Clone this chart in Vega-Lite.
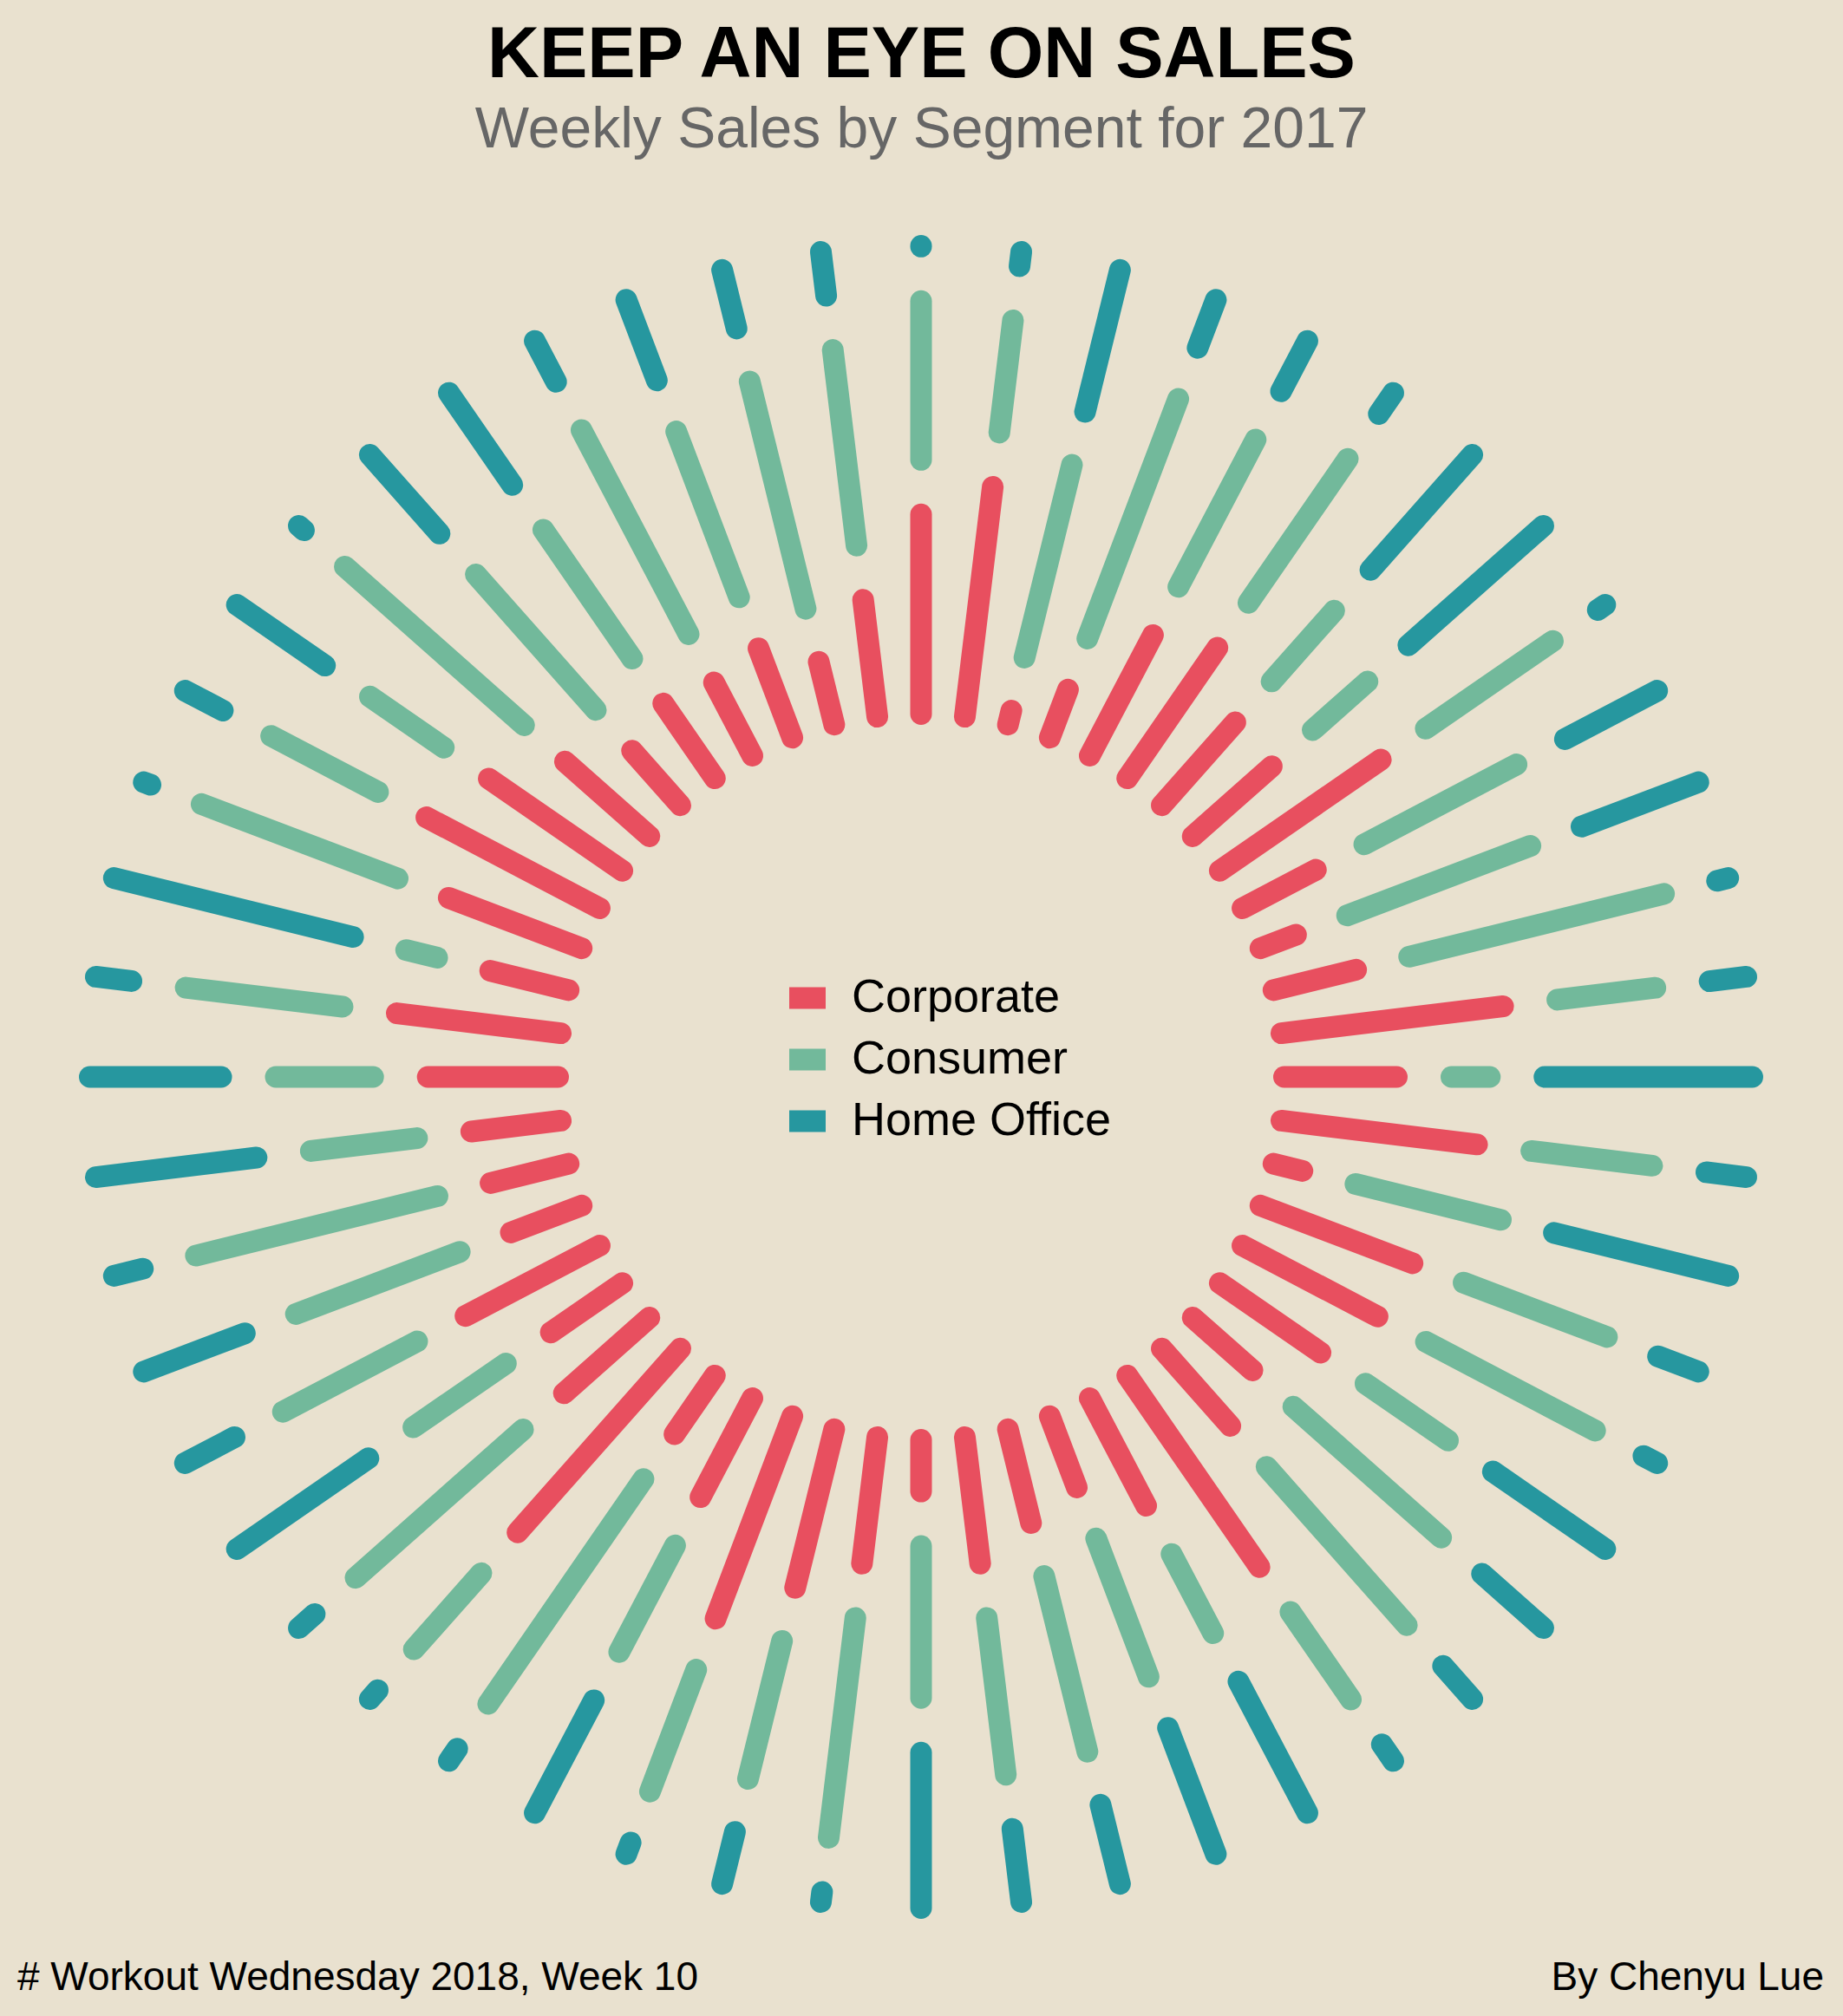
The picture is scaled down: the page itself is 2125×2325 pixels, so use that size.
{
 "$schema": "https://vega.github.io/schema/vega-lite/v6.json",
 "width": 2125,
 "height": 2325,
 "autosize": {"type": "none"},
 "padding": 0,
 "background": "#E9E1CF",
 "config": {"view": {"stroke": null}, "font": "Liberation Sans"},
 "title": {
  "text": "KEEP AN EYE ON SALES",
  "subtitle": "Weekly Sales by Segment for 2017",
  "anchor": "middle",
  "frame": "group",
  "offset": -183,
  "font": "Liberation Sans",
  "fontSize": 83,
  "fontWeight": "bold",
  "color": "#000000",
  "subtitleFont": "Liberation Sans",
  "subtitleFontSize": 66,
  "subtitleColor": "#666666",
  "subtitlePadding": 12.5
 },
 "layer": [
  {
   "data": {"values": [
    {"week":1,"segment":"Corporate","share":55.6},{"week":1,"segment":"Consumer","share":44.2},{"week":1,"segment":"Home Office","share":0.2},
    {"week":2,"segment":"Corporate","share":64.5},{"week":2,"segment":"Consumer","share":31.5},{"week":2,"segment":"Home Office","share":4.0},
    {"week":3,"segment":"Corporate","share":4.0},{"week":3,"segment":"Consumer","share":55.3},{"week":3,"segment":"Home Office","share":40.7},
    {"week":4,"segment":"Corporate","share":14.3},{"week":4,"segment":"Consumer","share":71.4},{"week":4,"segment":"Home Office","share":14.3},
    {"week":5,"segment":"Corporate","share":37.9},{"week":5,"segment":"Consumer","share":46.3},{"week":5,"segment":"Home Office","share":15.8},
    {"week":6,"segment":"Corporate","share":44.2},{"week":6,"segment":"Consumer","share":48.7},{"week":6,"segment":"Home Office","share":7.1},
    {"week":7,"segment":"Corporate","share":30.9},{"week":7,"segment":"Consumer","share":26.3},{"week":7,"segment":"Home Office","share":42.8},
    {"week":8,"segment":"Corporate","share":29.4},{"week":8,"segment":"Consumer","share":20.4},{"week":8,"segment":"Home Office","share":50.2},
    {"week":9,"segment":"Corporate","share":54.5},{"week":9,"segment":"Consumer","share":43.0},{"week":9,"segment":"Home Office","share":2.5},
    {"week":10,"segment":"Corporate","share":23.1},{"week":10,"segment":"Consumer","share":47.9},{"week":10,"segment":"Home Office","share":29.0},
    {"week":11,"segment":"Corporate","share":10.6},{"week":11,"segment":"Consumer","share":54.6},{"week":11,"segment":"Home Office","share":34.8},
    {"week":12,"segment":"Corporate","share":23.7},{"week":12,"segment":"Consumer","share":73.1},{"week":12,"segment":"Home Office","share":3.2},
    {"week":13,"segment":"Corporate","share":62.2},{"week":13,"segment":"Consumer","share":27.5},{"week":13,"segment":"Home Office","share":10.3},
    {"week":14,"segment":"Corporate","share":31.4},{"week":14,"segment":"Consumer","share":10.7},{"week":14,"segment":"Home Office","share":57.9},
    {"week":15,"segment":"Corporate","share":54.9},{"week":15,"segment":"Consumer","share":33.9},{"week":15,"segment":"Home Office","share":11.2},
    {"week":16,"segment":"Corporate","share":8.3},{"week":16,"segment":"Consumer","share":41.7},{"week":16,"segment":"Home Office","share":50.0},
    {"week":17,"segment":"Corporate","share":45.3},{"week":17,"segment":"Consumer","share":42.7},{"week":17,"segment":"Home Office","share":12.0},
    {"week":18,"segment":"Corporate","share":42.5},{"week":18,"segment":"Consumer","share":53.2},{"week":18,"segment":"Home Office","share":4.3},
    {"week":19,"segment":"Corporate","share":34.1},{"week":19,"segment":"Consumer","share":27.9},{"week":19,"segment":"Home Office","share":38.0},
    {"week":20,"segment":"Corporate","share":22.2},{"week":20,"segment":"Consumer","share":55.0},{"week":20,"segment":"Home Office","share":22.8},
    {"week":21,"segment":"Corporate","share":28.8},{"week":21,"segment":"Consumer","share":58.9},{"week":21,"segment":"Home Office","share":12.3},
    {"week":22,"segment":"Corporate","share":64.8},{"week":22,"segment":"Consumer","share":29.6},{"week":22,"segment":"Home Office","share":5.6},
    {"week":23,"segment":"Corporate","share":33.8},{"week":23,"segment":"Consumer","share":24.9},{"week":23,"segment":"Home Office","share":41.3},
    {"week":24,"segment":"Corporate","share":21.2},{"week":24,"segment":"Consumer","share":41.2},{"week":24,"segment":"Home Office","share":37.6},
    {"week":25,"segment":"Corporate","share":26.9},{"week":25,"segment":"Consumer","share":50.4},{"week":25,"segment":"Home Office","share":22.7},
    {"week":26,"segment":"Corporate","share":35.5},{"week":26,"segment":"Consumer","share":44.0},{"week":26,"segment":"Home Office","share":20.5},
    {"week":27,"segment":"Corporate","share":14.4},{"week":27,"segment":"Consumer","share":42.3},{"week":27,"segment":"Home Office","share":43.3},
    {"week":28,"segment":"Corporate","share":35.5},{"week":28,"segment":"Consumer","share":61.7},{"week":28,"segment":"Home Office","share":2.8},
    {"week":29,"segment":"Corporate","share":45.5},{"week":29,"segment":"Consumer","share":39.6},{"week":29,"segment":"Home Office","share":14.9},
    {"week":30,"segment":"Corporate","share":60.3},{"week":30,"segment":"Consumer","share":36.3},{"week":30,"segment":"Home Office","share":3.4},
    {"week":31,"segment":"Corporate","share":31.1},{"week":31,"segment":"Consumer","share":33.5},{"week":31,"segment":"Home Office","share":35.4},
    {"week":32,"segment":"Corporate","share":19.8},{"week":32,"segment":"Consumer","share":76.1},{"week":32,"segment":"Home Office","share":4.1},
    {"week":33,"segment":"Corporate","share":68.4},{"week":33,"segment":"Consumer","share":28.3},{"week":33,"segment":"Home Office","share":3.3},
    {"week":34,"segment":"Corporate","share":31.8},{"week":34,"segment":"Consumer","share":62.3},{"week":34,"segment":"Home Office","share":5.9},
    {"week":35,"segment":"Corporate","share":24.2},{"week":35,"segment":"Consumer","share":31.3},{"week":35,"segment":"Home Office","share":44.5},
    {"week":36,"segment":"Corporate","share":42.2},{"week":36,"segment":"Consumer","share":42.2},{"week":36,"segment":"Home Office","share":15.6},
    {"week":37,"segment":"Corporate","share":21.1},{"week":37,"segment":"Consumer","share":48.8},{"week":37,"segment":"Home Office","share":30.1},
    {"week":38,"segment":"Corporate","share":22.4},{"week":38,"segment":"Consumer","share":69.3},{"week":38,"segment":"Home Office","share":8.3},
    {"week":39,"segment":"Corporate","share":25.1},{"week":39,"segment":"Consumer","share":29.8},{"week":39,"segment":"Home Office","share":45.1},
    {"week":40,"segment":"Corporate","share":36.3},{"week":40,"segment":"Consumer","share":27.1},{"week":40,"segment":"Home Office","share":36.6},
    {"week":41,"segment":"Corporate","share":46.0},{"week":41,"segment":"Consumer","share":44.0},{"week":41,"segment":"Home Office","share":10.0},
    {"week":42,"segment":"Corporate","share":22.5},{"week":42,"segment":"Consumer","share":8.9},{"week":42,"segment":"Home Office","share":68.6},
    {"week":43,"segment":"Corporate","share":39.6},{"week":43,"segment":"Consumer","share":58.4},{"week":43,"segment":"Home Office","share":2.0},
    {"week":44,"segment":"Corporate","share":54.5},{"week":44,"segment":"Consumer","share":33.6},{"week":44,"segment":"Home Office","share":11.9},
    {"week":45,"segment":"Corporate","share":45.2},{"week":45,"segment":"Consumer","share":25.0},{"week":45,"segment":"Home Office","share":29.8},
    {"week":46,"segment":"Corporate","share":31.4},{"week":46,"segment":"Consumer","share":66.7},{"week":46,"segment":"Home Office","share":1.9},
    {"week":47,"segment":"Corporate","share":20.3},{"week":47,"segment":"Consumer","share":50.4},{"week":47,"segment":"Home Office","share":29.3},
    {"week":48,"segment":"Corporate","share":25.3},{"week":48,"segment":"Consumer","share":43.6},{"week":48,"segment":"Home Office","share":31.1},
    {"week":49,"segment":"Corporate","share":23.0},{"week":49,"segment":"Consumer","share":64.2},{"week":49,"segment":"Home Office","share":12.8},
    {"week":50,"segment":"Corporate","share":26.6},{"week":50,"segment":"Consumer","share":49.4},{"week":50,"segment":"Home Office","share":24.0},
    {"week":51,"segment":"Corporate","share":18.0},{"week":51,"segment":"Consumer","share":65.2},{"week":51,"segment":"Home Office","share":16.8},
    {"week":52,"segment":"Corporate","share":32.8},{"week":52,"segment":"Consumer","share":54.9},{"week":52,"segment":"Home Office","share":12.3}
   ]},
   "transform": [
    {"calculate": "indexof(['Corporate','Consumer','Home Office'], datum.segment)", "as": "ord"},
    {"stack": "share", "groupby": ["week"], "sort": [{"field": "ord", "order": "ascending"}], "offset": "normalize", "as": ["s0", "s1"]},
    {"calculate": "(datum.week - 1) * 2 * PI / 52", "as": "ang"},
    {"calculate": "418.5 + datum.s0 * 414 + datum.ord * 63", "as": "r0"},
    {"calculate": "418.5 + datum.s1 * 414 + datum.ord * 63", "as": "r1"},
    {"calculate": "datum.r0 * sin(datum.ang)", "as": "px0"},
    {"calculate": "datum.r0 * cos(datum.ang)", "as": "py0"},
    {"calculate": "datum.r1 * sin(datum.ang)", "as": "px1"},
    {"calculate": "datum.r1 * cos(datum.ang)", "as": "py1"}
   ],
   "mark": {"type": "rule", "strokeWidth": 25, "strokeCap": "round"},
   "encoding": {
    "x": {"field": "px0", "type": "quantitative", "scale": {"domain": [-1062, 1063], "nice": false, "zero": false}, "axis": null},
    "y": {"field": "py0", "type": "quantitative", "scale": {"domain": [-1083, 1242], "nice": false, "zero": false}, "axis": null},
    "x2": {"field": "px1"},
    "y2": {"field": "py1"},
    "color": {
     "field": "segment",
     "type": "nominal",
     "scale": {"domain": ["Corporate", "Consumer", "Home Office"], "range": ["#E84F5F", "#72B99B", "#26979F"]},
     "legend": {
      "title": null,
      "orient": "none",
      "legendX": 904,
      "legendY": 1124,
      "padding": 0,
      "symbolType": "M-1,-0.6H1V0.6H-1Z",
      "symbolSize": 1764,
      "symbolStrokeWidth": 0,
      "labelFont": "Liberation Sans",
      "labelFontSize": 54,
      "labelColor": "#000000",
      "labelOffset": 24,
      "labelLimit": 800,
      "rowPadding": 17,
      "encode": {"symbols": {"update": {"fill": {"scale": "color", "field": "value"}, "strokeWidth": {"value": 0}, "opacity": {"value": 1}}}}
     }
    }
   }
  },
  {
   "data": {"values": [{}]},
   "mark": {"type": "text", "align": "left", "baseline": "alphabetic", "fontSize": 46, "font": "Liberation Sans", "color": "#000000"},
   "encoding": {
    "x": {"datum": -1042, "type": "quantitative", "scale": {"domain": [-1062, 1063], "nice": false, "zero": false}},
    "y": {"datum": -1053, "type": "quantitative", "scale": {"domain": [-1083, 1242], "nice": false, "zero": false}},
    "text": {"value": "# Workout Wednesday 2018, Week 10"}
   }
  },
  {
   "data": {"values": [{}]},
   "mark": {"type": "text", "align": "right", "baseline": "alphabetic", "fontSize": 46, "font": "Liberation Sans", "color": "#000000"},
   "encoding": {
    "x": {"datum": 1041, "type": "quantitative", "scale": {"domain": [-1062, 1063], "nice": false, "zero": false}},
    "y": {"datum": -1053, "type": "quantitative", "scale": {"domain": [-1083, 1242], "nice": false, "zero": false}},
    "text": {"value": "By Chenyu Lue"}
   }
  }
 ]
}
